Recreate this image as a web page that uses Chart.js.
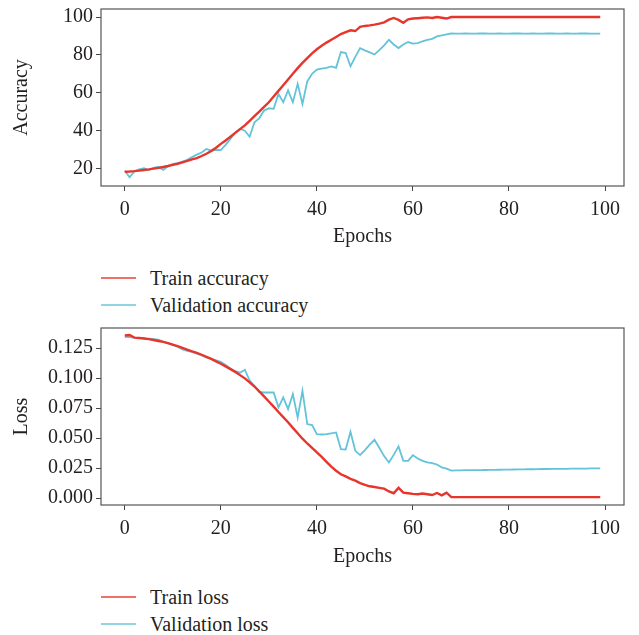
<!DOCTYPE html>
<html>
<head>
<meta charset="utf-8">
<script src="https://cdn.jsdelivr.net/npm/chart.js@4"></script>
<style>
  body { margin: 0; background: #fff; }
  #wrap { position: relative; width: 639px; height: 635px; }
  .box { position: absolute; left: 0; width: 639px; height: 255px; }
  .legend { position: absolute; left: 0; font-family: 'Liberation Serif', 'DejaVu Serif', serif; font-size: 20px; color: #231f20; }
  .legend .row { position: absolute; left: 0; height: 26px; width: 400px; }
  .legend .swatch { position: absolute; left: 101px; top: 12px; width: 35px; height: 2px; opacity: 0.7; }
  .legend .txt { position: absolute; left: 150px; top: 0; line-height: 26px; white-space: nowrap; }
</style>
</head>
<body>
<div id="wrap">
  <div class="box" style="top:0"><canvas id="accChart" width="639" height="255"></canvas></div>
  <div class="legend" id="accLegend" style="top:265px"></div>
  <div class="box" style="top:320px"><canvas id="lossChart" width="639" height="255"></canvas></div>
  <div class="legend" id="lossLegend" style="top:584px"></div>
</div>
<script>
// epochs 0..99
const epochs = Array.from({ length: 100 }, (_, i) => i);
const xTicks = [0, 20, 40, 60, 80, 100];
const accTicks = [20, 40, 60, 80, 100];
const lossTicks = [0, 0.025, 0.05, 0.075, 0.1, 0.125];

const trainAcc = [
  18.3, 18.4, 18.6, 18.9, 19.2, 19.5, 19.9, 20.3, 20.8, 21.3,
  21.9, 22.5, 23.2, 24.0, 24.8, 25.5, 26.6, 27.8, 29.2, 31.0,
  33.0, 34.8, 36.8, 38.8, 40.8, 42.8, 45.2, 47.6, 50.0, 52.5,
  55.0, 58.0, 61.0, 64.0, 67.0, 70.0, 73.0, 75.8, 78.3, 80.8,
  83.0, 84.8, 86.5, 88.0, 89.5, 91.0, 92.0, 93.0, 92.6, 94.8,
  95.3, 95.6, 96.0, 96.5, 97.2, 98.6, 99.5, 98.5, 97.0, 98.8,
  99.2, 99.4, 99.6, 99.8, 99.5, 100, 99.6, 99.2, 100, 100,
  100, 100, 100, 100, 100, 100, 100, 100, 100, 100,
  100, 100, 100, 100, 100, 100, 100, 100, 100, 100,
  100, 100, 100, 100, 100, 100, 100, 100, 100, 100
];
const valAcc = [
  18.8, 15.3, 18.4, 19.5, 20.1, 19.2, 20.3, 20.9, 19.3, 21.2,
  22.4, 22.8, 23.7, 24.6, 26.0, 27.3, 28.4, 30.3, 29.4, 29.9,
  29.7, 32.5, 35.6, 39.0, 41.0, 40.0, 36.8, 44.4, 46.5, 50.6,
  51.8, 51.5, 59.4, 55.0, 61.2, 55.0, 64.7, 54.1, 66.0, 70.0,
  72.2, 72.8, 73.2, 73.9, 73.2, 81.5, 81.0, 74.0, 79.0, 83.6,
  82.4, 81.3, 80.2, 82.5, 85.0, 88.0, 85.5, 83.6, 85.5, 86.8,
  86.0, 86.2, 87.2, 87.9, 88.5, 89.8, 90.3, 90.9, 91.3, 91.2,
  91.2, 91.3, 91.2, 91.2, 91.3, 91.3, 91.2, 91.2, 91.3, 91.2,
  91.2, 91.3, 91.3, 91.2, 91.2, 91.3, 91.2, 91.2, 91.3, 91.3,
  91.2, 91.2, 91.3, 91.2, 91.2, 91.3, 91.3, 91.2, 91.2, 91.2
];
const trainLoss = [
  0.1355, 0.1360, 0.1338, 0.1335, 0.1330, 0.1325, 0.1318, 0.1310, 0.1302, 0.1292,
  0.1280, 0.1266, 0.1252, 0.1238, 0.1224, 0.1210, 0.1195, 0.1178, 0.1160, 0.1140,
  0.1120, 0.1098, 0.1075, 0.1052, 0.1025, 0.0998, 0.0965, 0.0930, 0.0890, 0.0848,
  0.0805, 0.0762, 0.0718, 0.0675, 0.0632, 0.0585, 0.0540, 0.0495, 0.0455, 0.0418,
  0.0380, 0.0343, 0.0302, 0.0262, 0.0228, 0.0198, 0.0180, 0.0160, 0.0145, 0.0125,
  0.0110, 0.0098, 0.0092, 0.0085, 0.0078, 0.0055, 0.0040, 0.0085, 0.0045, 0.0040,
  0.0035, 0.0032, 0.0038, 0.0032, 0.0025, 0.0042, 0.0022, 0.0045, 0.0008, 0.0008,
  0.0008, 0.0008, 0.0008, 0.0008, 0.0008, 0.0008, 0.0008, 0.0008, 0.0008, 0.0008,
  0.0008, 0.0008, 0.0008, 0.0008, 0.0008, 0.0008, 0.0008, 0.0008, 0.0008, 0.0008,
  0.0008, 0.0008, 0.0008, 0.0008, 0.0008, 0.0008, 0.0008, 0.0008, 0.0008, 0.0008
];
const valLoss = [
  0.1345, 0.1342, 0.1338, 0.1335, 0.1332, 0.1330, 0.1326, 0.1322, 0.1305, 0.1290,
  0.1275, 0.1262, 0.1240, 0.1228, 0.1220, 0.1205, 0.1190, 0.1172, 0.1160, 0.1148,
  0.1135, 0.1110, 0.1080, 0.1058, 0.1045, 0.1070, 0.0980, 0.0935, 0.0885, 0.0880,
  0.0880, 0.0880, 0.0756, 0.0839, 0.0742, 0.0867, 0.0672, 0.0894, 0.0617, 0.0608,
  0.0533, 0.0530, 0.0533, 0.0540, 0.0547, 0.0408, 0.0405, 0.0553, 0.0394, 0.0358,
  0.0400, 0.0445, 0.0486, 0.0420, 0.0350, 0.0297, 0.0360, 0.0431, 0.0311, 0.0310,
  0.0358, 0.0330, 0.0310, 0.0297, 0.0292, 0.0280, 0.0256, 0.0245, 0.0228, 0.0230,
  0.0231, 0.0232, 0.0232, 0.0233, 0.0233, 0.0234, 0.0235, 0.0235, 0.0236, 0.0237,
  0.0237, 0.0238, 0.0239, 0.0239, 0.0240, 0.0240, 0.0241, 0.0242, 0.0242, 0.0243,
  0.0243, 0.0244, 0.0244, 0.0245, 0.0245, 0.0246, 0.0246, 0.0247, 0.0247, 0.0247
];

const RED = '#e8352b';
const CYAN = '#62c3d9';
const TEXT = '#231f20';
const FONT = "'Liberation Serif', 'DejaVu Serif', serif";

// box around the plot area
const framePlugin = {
  id: 'frame',
  afterDraw(chart) {
    const { ctx, chartArea: a } = chart;
    ctx.save();
    ctx.strokeStyle = '#555';
    ctx.lineWidth = 1.2;
    ctx.strokeRect(a.left, a.top, a.right - a.left, a.bottom - a.top);
    ctx.restore();
  }
};

function makeChart(id, names, series, yTitle, yMin, yMax, yTicks, fmt, padTop, xHeight) {
  const ctx = document.getElementById(id).getContext('2d');
  return new Chart(ctx, {
    type: 'line',
    data: {
      labels: epochs,
      datasets: [
        { label: names[0], data: series[0], borderColor: RED, borderWidth: 2.4 },
        { label: names[1], data: series[1], borderColor: CYAN, borderWidth: 1.8 }
      ]
    },
    options: {
      responsive: false,
      animation: false,
      elements: { point: { radius: 0 }, line: { tension: 0 } },
      layout: { padding: { top: padTop, right: 15, left: 0, bottom: 0 } },
      plugins: { legend: { display: false }, tooltip: { enabled: false } },
      scales: {
        x: {
          type: 'linear',
          min: -4.95, max: 103.95,
          afterFit(s) { s.height = xHeight; s.paddingLeft = 0; s.paddingRight = 0; },
          afterBuildTicks(s) { s.ticks = xTicks.map(v => ({ value: v })); },
          grid: { drawOnChartArea: false, tickLength: 5, tickColor: '#444' },
          border: { display: false },
          ticks: { color: TEXT, font: { family: FONT, size: 20 }, padding: 7, maxRotation: 0 },
          title: { display: true, text: 'Epochs', color: TEXT, font: { family: FONT, size: 20 }, padding: { top: 0, bottom: 6 } }
        },
        y: {
          min: yMin, max: yMax,
          afterFit(s) { s.width = 101; s.paddingTop = 0; s.paddingBottom = 0; },
          afterBuildTicks(s) { s.ticks = yTicks.map(v => ({ value: v })); },
          grid: { drawOnChartArea: false, tickLength: 5, tickColor: '#444' },
          border: { display: false },
          ticks: { color: TEXT, font: { family: FONT, size: 20 }, padding: 3, callback: fmt },
          title: { display: true, text: yTitle, color: TEXT, font: { family: FONT, size: 20 }, padding: { top: 10, bottom: 0 } }
        }
      }
    },
    plugins: [framePlugin]
  });
}

function buildLegend(chart, elId) {
  const el = document.getElementById(elId);
  chart.data.datasets.forEach((ds, i) => {
    const row = document.createElement('div');
    row.className = 'row';
    row.style.top = (i * 26.5) + 'px';
    row.innerHTML = '<span class="swatch" style="background:' + ds.borderColor + '"></span>' +
      '<span class="txt">' + ds.label + '</span>';
    el.appendChild(row);
  });
}

const accChart = makeChart('accChart', ['Train accuracy', 'Validation accuracy'],
  [trainAcc, valAcc], 'Accuracy', 10.75, 104.25, accTicks, v => v, 9, 69);
buildLegend(accChart, 'accLegend');

const lossChart = makeChart('lossChart', ['Train loss', 'Validation loss'],
  [trainLoss, valLoss], 'Loss', -0.0058, 0.1418, lossTicks, v => v.toFixed(3), 8, 70);
buildLegend(lossChart, 'lossLegend');
</script>
</body>
</html>
